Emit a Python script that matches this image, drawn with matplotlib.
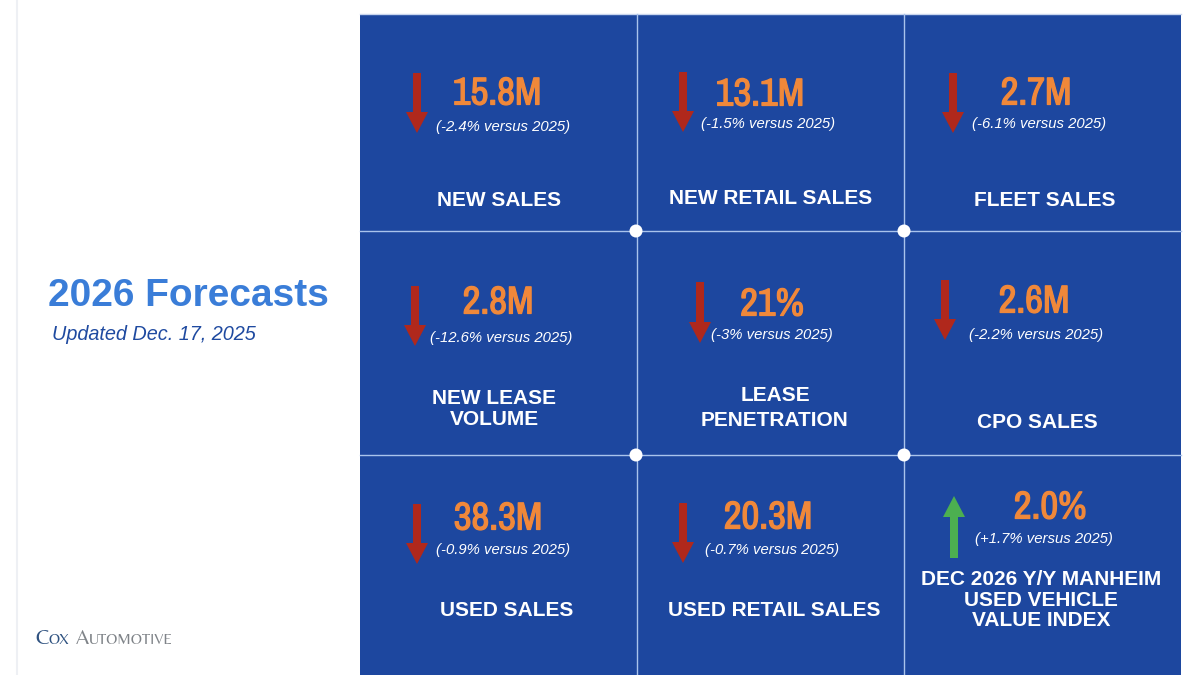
#!/usr/bin/env python3
"""2026 forecast tile slide, drawn in pixel coordinates."""

import matplotlib
matplotlib.use("Agg")
import matplotlib.pyplot as plt
import matplotlib.patheffects as pe
from matplotlib.patches import Circle, FancyArrow, Rectangle

plt.rcParams["font.family"] = ["Liberation Sans", "DejaVu Sans"]

# data
values = ["15.8M", "13.1M", "2.7M", "2.8M", "21%", "2.6M", "38.3M", "20.3M", "2.0%"]
changes = ["-2.4%", "-1.5%", "-6.1%", "-12.6%", "-3%", "-2.2%", "-0.9%", "-0.7%", "+1.7%"]
labels = [
    "NEW SALES", "NEW RETAIL SALES", "FLEET SALES",
    "NEW LEASE\nVOLUME", "LEASE\nPENETRATION", "CPO SALES",
    "USED SALES", "USED RETAIL SALES", "DEC 2026 Y/Y MANHEIM\nUSED VEHICLE\nVALUE INDEX",
]

# layout, pixels from the top left
value_pos = [(497, 94), (760, 95), (1036, 94), (498, 303), (772, 305), (1034, 302),
             (498, 519), (768, 518), (1050, 508)]
change_pos = [(503, 127), (768, 124), (1039, 124), (501, 338), (772, 335), (1036, 335),
              (503, 550), (772, 550), (1044, 539)]
label_pos = [(499, 201), (771, 198), (1045, 200), (494, 409), (775, 408), (1037, 423),
             (507, 611), (774, 611), (1041, 600)]
label_spacing = [1.1, 1.1, 1.1, 1.1, 1.38, 1.1, 1.1, 1.1, 1.1]
# arrow x, tail y, tip y
arrow_pos = [(417, 73, 133), (683, 72, 132), (953, 73, 133), (415, 286, 346), (700, 282, 343),
             (945, 280, 340), (417, 504, 564), (683, 503, 563), (954, 558, 496)]

PANEL = "#1D479F"
GRID = "#A9C3EC"
ORANGE = "#F0883A"
RED = "#B0281C"
GREEN = "#4CAF50"

fig = plt.figure(figsize=(12, 6.75), dpi=100, facecolor="white")
ax = fig.add_axes([0, 0, 1, 1])
ax.set_xlim(0, 1200)
ax.set_ylim(675, 0)
ax.axis("off")

# page edge and blue panel
ax.plot([17, 17], [0, 675], color="#EEF0F4", lw=1.5)
ax.add_patch(Rectangle((360, 14), 821, 661, facecolor=PANEL, edgecolor="none"))
ax.plot([360, 1181], [14, 14], color="#C9D6EE", lw=1)

for x in [637, 904]:
    ax.plot([x, x], [14, 675], color=GRID, lw=1)
for y in [231, 455]:
    ax.plot([360, 1181], [y, y], color=GRID, lw=1)
for x in [636, 904]:
    for y in [231, 455]:
        ax.add_patch(Circle((x, y), 6.5, facecolor="white", edgecolor="none", zorder=3))

# left column
ax.text(48, 296, "2026 Forecasts", fontsize=28, fontweight="bold", color="#3A7DD8",
        ha="left", va="center")
ax.text(52, 334, "Updated Dec. 17, 2025", fontsize=14.3, fontstyle="italic", color="#1F4AA0",
        ha="left", va="center")

# logo text in small caps, run by run
x = 35
fig.canvas.draw()
renderer = fig.canvas.get_renderer()
for run, size, color in [("C", 15, "#2F5280"), ("OX", 11, "#2F5280"), (" ", 11, "#7F8388"),
                         ("A", 15, "#7F8388"), ("UTOMOTIVE", 11, "#7F8388")]:
    t = ax.text(x, 644, run, fontsize=size, color=color, ha="left", va="baseline",
                family=["Belleza", "Lato", "Liberation Sans"])
    if run == " ":
        x += 5
    else:
        x += t.get_window_extent(renderer).width + 0.6

# tiles
for i in range(len(values)):
    # the narrow face only comes in one weight, the stroke thickens it
    ax.text(*value_pos[i], values[i], fontsize=28, fontweight="bold", color=ORANGE,
            ha="center", va="center", family=["Archivo Narrow", "Liberation Sans"],
            path_effects=[pe.withStroke(linewidth=0.9, foreground=ORANGE)])
    ax.text(*change_pos[i], f"({changes[i]} versus 2025)", fontsize=10.7, fontstyle="italic",
            color="white", ha="center", va="center")
    ax.text(*label_pos[i], labels[i], fontsize=15, fontweight="bold", color="white",
            ha="center", va="center", linespacing=label_spacing[i])
    ax_x, tail, tip = arrow_pos[i]
    ax.add_patch(FancyArrow(ax_x, tail, 0, tip - tail, width=8, head_width=22, head_length=21,
                            length_includes_head=True, facecolor=GREEN if tip < tail else RED,
                            edgecolor="none"))

fig.savefig("out.png", dpi=100)
